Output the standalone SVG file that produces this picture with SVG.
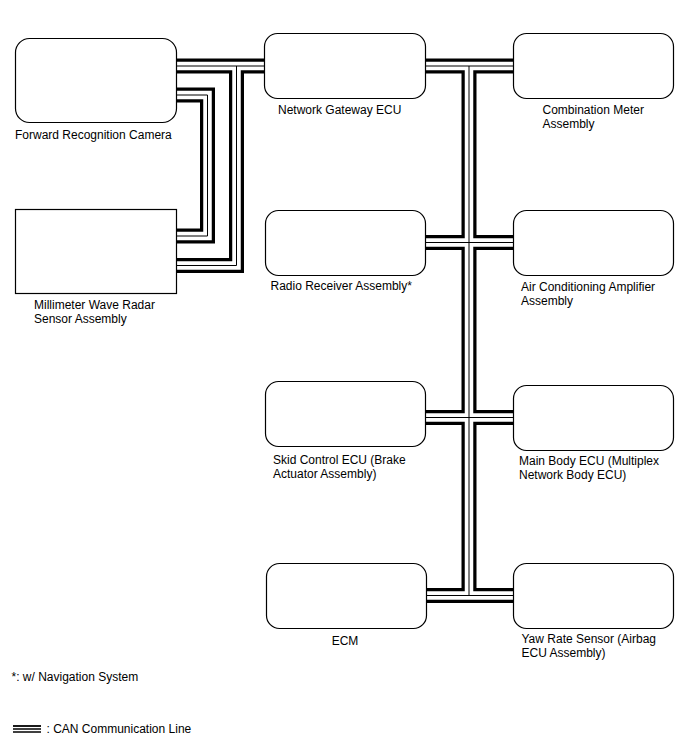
<svg xmlns="http://www.w3.org/2000/svg" width="688" height="755" viewBox="0 0 688 755">
<style>
  text { font-family: "Liberation Sans", Arial, sans-serif; font-size: 12px; fill: #000; }
  .box { fill: #fff; stroke: #000; stroke-width: 1.2; }
  .b1 { fill: none; stroke: #000; stroke-width: 15; stroke-linejoin: miter; }
  .b2 { fill: none; stroke: #fff; stroke-width: 8.5; stroke-linejoin: miter; }
  .b3 { fill: none; stroke: #000; stroke-width: 1; stroke-linejoin: miter; }
</style>
<defs>
  <g id="buses">
    <path d="M170,66 H270"/>
    <path d="M170,95 H207.5 V236 H170"/>
    <path d="M170,265.5 H236.5 V66"/>
    <path d="M420,66 H520"/>
    <path d="M469,66 V595.5"/>
    <path d="M420,242.5 H520"/>
    <path d="M420,417.5 H520"/>
    <path d="M420,595.5 H520"/>
  </g>
</defs>
<g id="connectors">
  <use href="#buses" class="b1"/>
  <use href="#buses" class="b2"/>
  <use href="#buses" class="b3"/>
</g>
<g id="camera">
  <rect class="box" x="15.5" y="38.5" width="161" height="84" rx="14"/>
  <text x="15" y="139">Forward Recognition Camera</text>
</g>
<g id="radar">
  <rect class="box" x="15.5" y="209.5" width="161" height="84"/>
  <text x="34" y="309">Millimeter Wave Radar</text>
  <text x="34" y="323">Sensor Assembly</text>
</g>
<g id="gateway">
  <rect class="box" x="264.5" y="33.5" width="161" height="65" rx="13"/>
  <text x="278" y="114">Network Gateway ECU</text>
</g>
<g id="combination-meter">
  <rect class="box" x="513.5" y="33.5" width="160" height="65" rx="13"/>
  <text x="542.5" y="114">Combination Meter</text>
  <text x="542.5" y="128">Assembly</text>
</g>
<g id="radio">
  <rect class="box" x="265.5" y="210.5" width="160" height="65" rx="13"/>
  <text x="270.5" y="290">Radio Receiver Assembly*</text>
</g>
<g id="ac-amplifier">
  <rect class="box" x="513.5" y="210.5" width="160" height="65" rx="13"/>
  <text x="521" y="291">Air Conditioning Amplifier</text>
  <text x="521" y="305">Assembly</text>
</g>
<g id="skid-control">
  <rect class="box" x="265.5" y="381.5" width="160" height="65" rx="13"/>
  <text x="273" y="464">Skid Control ECU (Brake</text>
  <text x="273" y="478">Actuator Assembly)</text>
</g>
<g id="main-body">
  <rect class="box" x="513.5" y="385.5" width="160" height="65" rx="13"/>
  <text x="519" y="465">Main Body ECU (Multiplex</text>
  <text x="519" y="479">Network Body ECU)</text>
</g>
<g id="ecm">
  <rect class="box" x="266.5" y="563.5" width="160" height="65" rx="13"/>
  <text x="345" y="645" text-anchor="middle">ECM</text>
</g>
<g id="yaw-rate">
  <rect class="box" x="513.5" y="563.5" width="160" height="65" rx="13"/>
  <text x="521.5" y="643">Yaw Rate Sensor (Airbag</text>
  <text x="521.5" y="657">ECU Assembly)</text>
</g>
<g id="notes">
  <text x="11.5" y="681">*: w/ Navigation System</text>
  <line x1="13" y1="726" x2="41" y2="726" stroke="#000" stroke-width="1.8"/>
  <line x1="13" y1="729" x2="41" y2="729" stroke="#000" stroke-width="1.5"/>
  <line x1="13" y1="732" x2="41" y2="732" stroke="#000" stroke-width="1.5"/>
  <text x="46.5" y="733">: CAN Communication Line</text>
</g>
</svg>
